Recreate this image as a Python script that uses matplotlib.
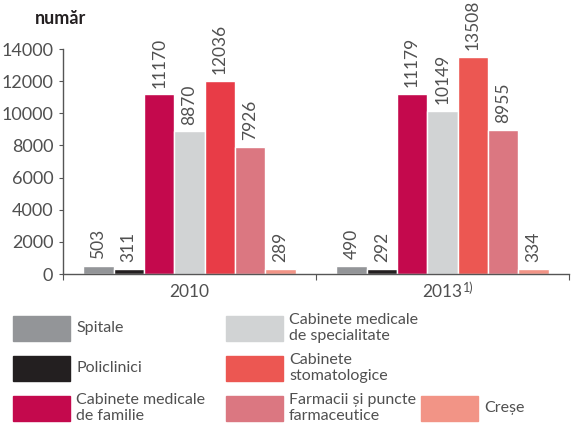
import matplotlib
matplotlib.use('Agg')
import matplotlib.pyplot as plt
import numpy as np
from matplotlib.patches import Rectangle

plt.rcParams['font.family'] = ['Lato', 'DejaVu Sans']

years = ['2010', '2013']
series = ['Spitale', 'Policlinici', 'Cabinete medicale\nde familie',
          'Cabinete medicale\nde specialitate', 'Cabinete\nstomatologice',
          'Farmacii și puncte\nfarmaceutice', 'Creșe']
spitale = [503, 490]
policlinici = [311, 292]
familie = [11170, 11179]
specialitate = [8870, 10149]
stomatologice = [12036, 13508]
farmacii = [7926, 8955]
crese = [289, 334]
values = [spitale, policlinici, familie, specialitate, stomatologice, farmacii, crese]

colors = ['#939598', '#231f20', '#c4094d', '#d1d3d4', '#ec5752', '#db7781', '#f29486']
# the 2010 dental bar is a slightly deeper red in the original
bar_colors = [[c, c] for c in colors]
bar_colors[4][0] = '#e83c47'

txt = '#505050'

fig = plt.figure(figsize=(5.8, 4.28), dpi=100)
ax = fig.add_axes([0.1086, 0.3598, 0.8724, 0.5257])

x = np.arange(len(years))
w = 0.12
for i, vals in enumerate(values):
    pos = x - 0.36 + i * w
    ax.bar(pos, vals, width=w, color=bar_colors[i], edgecolor='white', linewidth=1)
    for p, v in zip(pos, vals):
        ax.annotate(str(v), (p, v), xytext=(0, 5), textcoords='offset points',
                    rotation=90, ha='center', va='bottom', fontsize=12.5,
                    color=txt)

ax.set_xlim(-0.5, 1.5)
ax.set_ylim(0, 14000)
ax.set_yticks(range(0, 14001, 2000))
ax.set_yticklabels([str(t) for t in range(0, 14001, 2000)], fontsize=13, color=txt)
ax.set_xticks([-0.5, 0.5, 1.5])
ax.set_xticklabels([])
ax.tick_params(axis='x', length=4, color='#555555', direction='out')
ax.tick_params(axis='y', length=3, color='#555555', pad=4)
for s in ['top', 'right']:
    ax.spines[s].set_visible(False)
for s in ['left', 'bottom']:
    ax.spines[s].set_color('#555555')
    ax.spines[s].set_linewidth(1)

ax.text(0, -650, '2010', ha='center', va='top', fontsize=12.5, color=txt)
ax.text(1, -650, '2013', ha='center', va='top', fontsize=12.5, color=txt)
ax.text(1.08, -450, '1)', ha='left', va='top', fontsize=9, color=txt)

fig.text(35 / 580, 1 - 19 / 428, 'număr', fontsize=13, fontweight='bold',
         color='#231f20', va='center', ha='left')

# legend drawn by hand: three columns, Creșe alone in the last row
cols_x = [13, 226, 421]
rows_y = [328, 368, 408]
slots = [(0, 0), (0, 1), (0, 2), (1, 0), (1, 1), (1, 2), (2, 2)]
for (c, r), lab, col in zip(slots, series, colors):
    px, py = cols_x[c], rows_y[r]
    fig.patches.append(Rectangle((px / 580, 1 - (py + 12.5) / 428), 57 / 580, 25 / 428,
                                 transform=fig.transFigure, color=col))
    fig.text((px + 63) / 580, 1 - py / 428, lab, fontsize=11.5, color=txt,
             va='center', ha='left', linespacing=1.25)

fig.savefig('out.png', dpi=100)
